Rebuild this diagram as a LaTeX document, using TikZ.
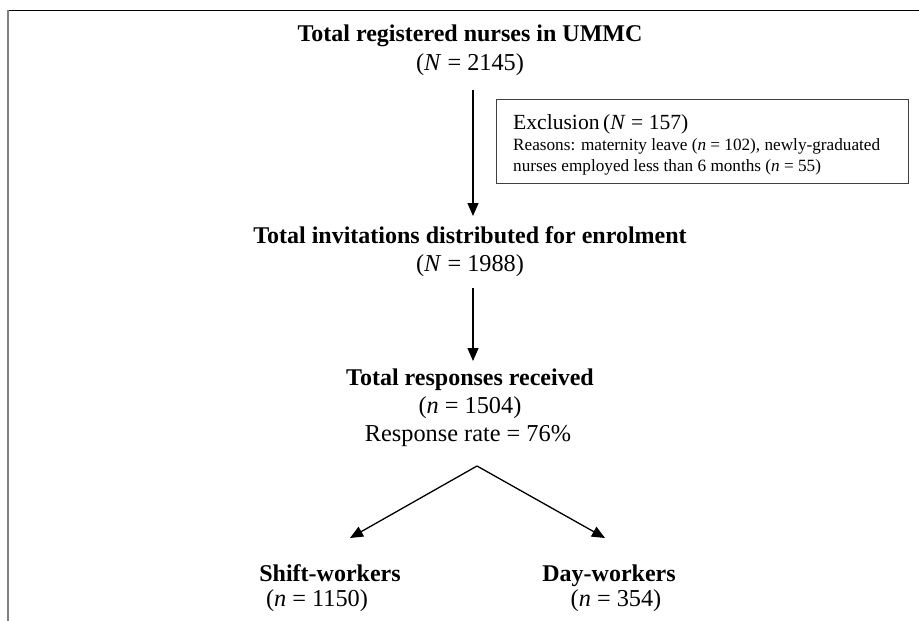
\documentclass[tikz,border=0pt]{standalone}
\usepackage{fontspec}
\setmainfont{Liberation Serif}
\usetikzlibrary{arrows.meta}
\begin{document}
\begin{tikzpicture}[x=1pt,y=-1pt,
  bigb/.style={font=\fontsize{24}{28}\selectfont\bfseries, inner sep=0pt, anchor=base},
  reg/.style={font=\fontsize{24.3}{28}\selectfont, inner sep=0pt, anchor=base},
  exs/.style={font=\fontsize{17.2}{20}\selectfont, anchor=base west, inner sep=0pt},
  arr/.style={-{Triangle[length=13pt,width=11pt]}, line width=1.3pt},
  ln/.style={line width=1.2pt}]
\useasboundingbox (0,0) rectangle (919,621);
\draw[line width=1pt] (8,10) -- (919,10);
\draw[line width=2pt, gray] (8,10) -- (8,621);
% texts
\node[bigb] (t1) at (470,41) {Total registered nurses in UMMC};
\node[reg] (t1n) at (470,70) {(\textit{N} = 2145)};
\node[bigb] (t2) at (470,243) {Total invitations distributed for enrolment};
\node[reg] (t2n) at (470,271) {(\textit{N} = 1988)};
\node[bigb] (t3) at (470,385) {Total responses received};
\node[reg] (t3n) at (470,413) {(\textit{n} = 1504)};
\node[reg] (t3r) at (468,441) {Response rate = 76\%};
\node[bigb] (s) at (330,581) {Shift-workers};
\node[reg] (sn) at (317,606) {(\textit{n} = 1150)};
\node[bigb] (d) at (609,581) {Day-workers};
\node[reg] (dn) at (616,606) {(\textit{n} = 354)};
% exclusion box
\node[draw=black!75, line width=1.2pt, minimum width=412pt, minimum height=84pt, anchor=north west, inner sep=0pt] (ex) at (496,99) {};
\node[font=\fontsize{21.6}{24}\selectfont, anchor=base west, inner sep=0pt] (ex1) at (513,129) {Exclusion\,(\textit{N} = 157)};
\node[exs] (ex2) at (513,150) {Reasons: maternity leave (\textit{n} = 102), newly-graduated};
\node[exs] (ex3) at (513,171) {nurses employed less than 6 months (\textit{n} = 55)};
% connectors
\coordinate (a1s) at (473,90);
\coordinate (a1e) at (473,216);
\coordinate (a2s) at (473,288);
\coordinate (a2e) at (473,361);
\coordinate (apex) at (477,466);
\coordinate (lt) at (350,538);
\coordinate (rt) at (605,538);
\draw[arr] (a1s) -- (a1e);
\draw[arr] (a2s) -- (a2e);
\draw[arr] (apex) -- (lt);
\draw[arr] (apex) -- (rt);
\end{tikzpicture}
\end{document}
